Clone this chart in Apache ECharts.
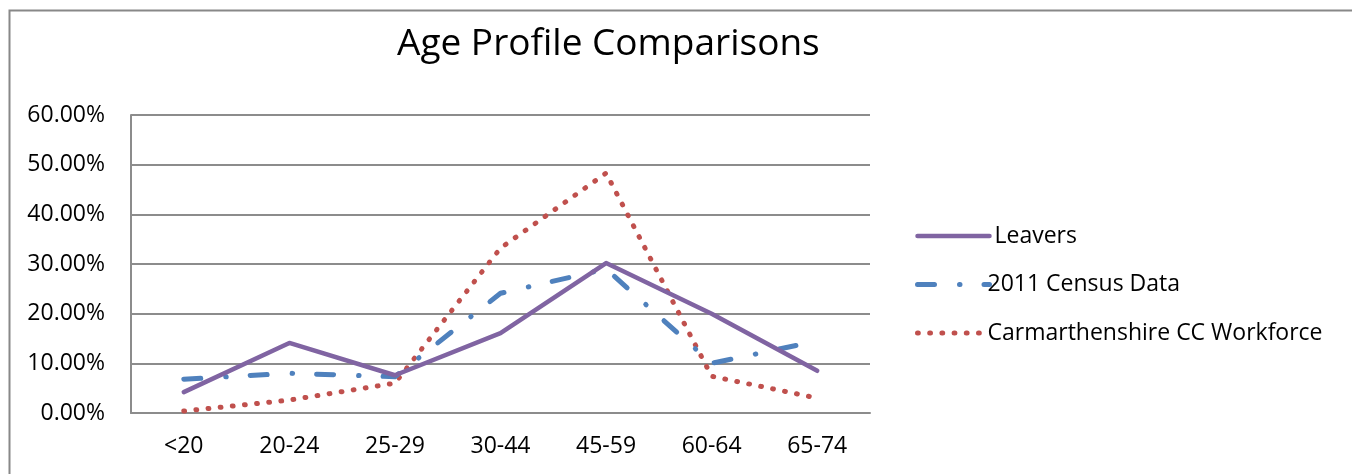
<!DOCTYPE html>
<html><head><meta charset="utf-8">
<script src="https://cdn.jsdelivr.net/npm/echarts@6/dist/echarts.min.js"></script>
<style>html,body{margin:0;padding:0;background:#fff}#c{width:1352px;height:474px}</style>
</head><body><div id="c"></div>
<script>
const categories = ['<20','20-24','25-29','30-44','45-59','60-64','65-74'];
const leavers = [4.2, 14.1, 7.6, 16.1, 30.2, 20.0, 8.5];
const census = [6.8, 8.0, 7.3, 24.1, 29.0, 10.0, 14.5];
const workforce = [0.4, 2.6, 6.0, 33.2, 48.3, 7.4, 3.0];
const yTicks = {min: 0, max: 60, interval: 10};
const FONT = '"Open Sans", "Noto Sans", sans-serif';

const chart = echarts.init(document.getElementById('c'), null, {renderer: 'canvas'});
chart.setOption({
  backgroundColor: '#fff',
  animation: false,
  title: {
    text: 'Age Profile Comparisons',
    left: 392, top: 21,
    textStyle: {fontFamily: FONT, fontSize: 37, fontWeight: 'normal', color: '#000'}
  },
  graphic: [
    {type: 'polyline', shape: {points: [[9.5, 480], [9.5, 10.5], [1360, 10.5]]}, style: {stroke: '#888', lineWidth: 2, fill: null}}
  ],
  legend: {
    orient: 'vertical', left: 910, top: 219,
    itemWidth: 72, itemHeight: 24, itemGap: 24.5,
    itemStyle: {opacity: 0},
    lineStyle: {width: 'inherit', type: 'inherit', cap: 'round'},
    textStyle: {fontFamily: FONT, fontSize: 23, color: '#000', lineHeight: 24, padding: [0, 0, 0, -7]},
    data: [
      {name: 'Leavers', textStyle: {padding: [0, 0, 0, 0]}},
      '2011 Census Data',
      'Carmarthenshire CC Workforce'
    ]
  },
  grid: {left: 131, right: 482, top: 115, bottom: 61},
  xAxis: {
    type: 'category', data: categories, boundaryGap: true,
    axisLine: {lineStyle: {color: '#8c8c8c', width: 2}},
    axisTick: {show: false},
    axisLabel: {fontFamily: FONT, fontSize: 23, color: '#000', margin: 22}
  },
  yAxis: {
    type: 'value', min: yTicks.min, max: yTicks.max, interval: yTicks.interval,
    axisLine: {show: true, lineStyle: {color: '#8c8c8c', width: 2}},
    axisTick: {show: false},
    splitLine: {lineStyle: {color: '#8c8c8c', width: 2}},
    axisLabel: {fontFamily: FONT, fontSize: 23, color: '#000', margin: 26, formatter: v => v.toFixed(2) + '%'}
  },
  series: [
    {name: 'Leavers', type: 'line', data: leavers, symbol: 'none', z: 3,
     lineStyle: {color: '#8064A2', width: 4.5, cap: 'round', join: 'round'}, itemStyle: {color: '#8064A2'}},
    {name: '2011 Census Data', type: 'line', data: census, symbol: 'none', z: 2,
     lineStyle: {color: '#4F81BD', width: 5, cap: 'round', join: 'round', type: [17, 25, 0.5, 24]}, itemStyle: {color: '#4F81BD'}},
    {name: 'Carmarthenshire CC Workforce', type: 'line', data: workforce, symbol: 'none', z: 1,
     lineStyle: {color: '#C0504D', width: 5, cap: 'round', join: 'round', type: [0.8, 11.4]}, itemStyle: {color: '#C0504D'}}
  ]
});
</script></body></html>
